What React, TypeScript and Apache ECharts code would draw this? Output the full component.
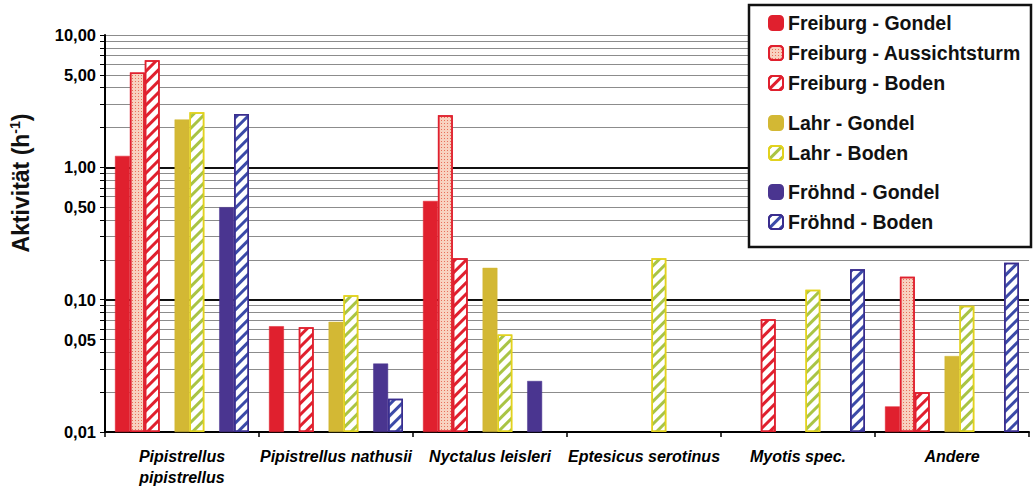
import React, { useEffect, useRef } from "react";
import * as echarts from "echarts";

const categories = [
  "Pipistrellus\npipistrellus",
  "Pipistrellus nathusii",
  "Nyctalus leisleri",
  "Eptesicus serotinus",
  "Myotis spec.",
  "Andere",
];

const freiburgGondel = [1.22, 0.063, 0.557, null, null, 0.0156];
const freiburgAussichtsturm = [5.2, null, 2.48, null, null, 0.149];
const freiburgBoden = [6.45, 0.062, 0.206, null, 0.071, 0.02];
const lahrGondel = [2.3, 0.068, 0.174, null, null, 0.0375];
const lahrBoden = [2.61, 0.108, 0.0545, 0.206, 0.119, 0.09];
const froehndGondel = [0.5, 0.0329, 0.0243, null, null, null];
const froehndBoden = [2.53, 0.0178, null, null, 0.17, 0.19];

const yTickValues = [
  0.01, 0.02, 0.03, 0.04, 0.05, 0.06, 0.07, 0.08, 0.09,
  0.1, 0.2, 0.3, 0.4, 0.5, 0.6, 0.7, 0.8, 0.9,
  1, 2, 3, 4, 5, 6, 7, 8, 9, 10,
];
const yLabelValues = [0.01, 0.05, 0.1, 0.5, 1, 5, 10];
const yMajorLines = [0.1, 1];

const RED = "#e0202e";
const YELLOW = "#d3b834";
const PURPLE = "#4a3590";
const FONT = "'Liberation Sans', Arial, sans-serif";

const stripe = (color: string) => ({
  symbol: "rect",
  symbolSize: 1,
  color,
  dashArrayX: [1, 0],
  dashArrayY: [3, 5],
  rotation: -Math.PI / 4,
});

export default function App() {
  const ref = useRef<HTMLDivElement>(null);
  useEffect(() => {
    const chart = echarts.init(ref.current!, null, { renderer: "svg" });
    const bar = (name: string, data: any[], itemStyle: any, extra: any = {}) => ({
      type: "bar",
      name,
      data,
      barGap: "0%",
      barCategoryGap: "13%",
      itemStyle,
      ...extra,
    });
    const series: any[] = [
      bar("Freiburg - Gondel", freiburgGondel, { color: RED, borderColor: RED, borderWidth: 0.5 }, {
        markLine: {
          silent: true,
          symbol: "none",
          z: 1,
          label: { show: false },
          lineStyle: { color: "#111", width: 2, type: "solid" },
          data: yMajorLines.map((v) => ({ yAxis: v })),
        },
      }),
      bar("Freiburg - Aussichtsturm", freiburgAussichtsturm, {
        color: "#f8d2c0",
        borderColor: RED,
        borderWidth: 1.5,
        decal: { symbol: "rect", symbolSize: 1, color: "#e8705a", dashArrayX: [1, 2], dashArrayY: [1, 2] },
      }),
      bar("Freiburg - Boden", freiburgBoden, {
        color: "#ffffff",
        borderColor: RED,
        borderWidth: 1.5,
        decal: stripe(RED),
      }),
      bar("gap1", [null, null, null, null, null, null], { color: "transparent" }),
      bar("Lahr - Gondel", lahrGondel, { color: YELLOW, borderColor: YELLOW, borderWidth: 0.5 }),
      bar("Lahr - Boden", lahrBoden, {
        color: "#ffffff",
        borderColor: "#e2d21e",
        borderWidth: 1.5,
        decal: stripe("#a9c445"),
      }),
      bar("gap2", [null, null, null, null, null, null], { color: "transparent" }),
      bar("Fröhnd - Gondel", froehndGondel, { color: PURPLE, borderColor: PURPLE, borderWidth: 0.5 }),
      bar("Fröhnd - Boden", froehndBoden, {
        color: "#ffffff",
        borderColor: "#3a2d8e",
        borderWidth: 1.5,
        decal: stripe("#3b4aa8"),
      }),
    ];

    const legendBase = {
      orient: "vertical",
      left: 768,
      padding: 0,
      itemWidth: 14,
      itemHeight: 14,
      itemGap: 10,
      selectedMode: false,
      z: 101,
      textStyle: { fontFamily: FONT, fontWeight: "bold", fontSize: 19.5, color: "#111", lineHeight: 20 },
    };

    chart.setOption({
      animation: false,
      backgroundColor: "#ffffff",
      grid: { left: 105, right: 5, top: 35, bottom: 57, containLabel: false },
      legend: [
        { ...legendBase, top: 13, data: ["Freiburg - Gondel", "Freiburg - Aussichtsturm", "Freiburg - Boden"] },
        { ...legendBase, top: 113, data: ["Lahr - Gondel", "Lahr - Boden"] },
        { ...legendBase, top: 182, data: ["Fröhnd - Gondel", "Fröhnd - Boden"] },
      ],
      xAxis: {
        type: "category",
        data: categories,
        axisLine: { show: true, lineStyle: { color: "#000", width: 2 } },
        axisTick: { show: true, length: 5, lineStyle: { color: "#000", width: 1.5 } },
        axisLabel: {
          interval: 0,
          margin: 14,
          fontFamily: FONT,
          fontWeight: "bold",
          fontStyle: "italic",
          fontSize: 16,
          lineHeight: 21,
          color: "#000",
        },
        splitLine: { show: false },
      },
      yAxis: {
        type: "log",
        logBase: 10,
        min: 0.01,
        max: 10,
        startValue: 0.01,
        axisLine: { show: true, lineStyle: { color: "#000", width: 2 } },
        axisTick: { show: true, length: 5, customValues: yTickValues, lineStyle: { color: "#000", width: 1 } },
        axisLabel: {
          customValues: yLabelValues,
          formatter: (v: number) => v.toFixed(2).replace(".", ","),
          fontFamily: FONT,
          fontWeight: "bold",
          fontSize: 16.5,
          color: "#000",
          margin: 9,
        },
        splitLine: { show: true, lineStyle: { color: "#8c8c8c", width: 1 } },
        minorTick: { show: false },
      },
      graphic: [
        {
          type: "rect",
          z: 100,
          shape: { x: 749, y: 5, width: 282, height: 242 },
          style: { fill: "#ffffff", stroke: "#111", lineWidth: 2.5 },
        },
        {
          type: "text",
          x: 21,
          y: 183,
          rotation: Math.PI / 2,
          z: 100,
          style: {
            text: "{a|Aktivität (h}{s|-1}{a|)}",
            align: "center",
            verticalAlign: "middle",
            rich: {
              a: { fontFamily: FONT, fontWeight: "bold", fontSize: 23, fill: "#111", lineHeight: 26 },
              s: { fontFamily: FONT, fontWeight: "bold", fontSize: 14, fill: "#111", verticalAlign: "top", lineHeight: 14 },
            },
          },
        },
      ],
      series,
    });
    return () => chart.dispose();
  }, []);
  return <div ref={ref} style={{ width: 1034, height: 489, position: "absolute", left: 0, top: 0 }} />;
}
